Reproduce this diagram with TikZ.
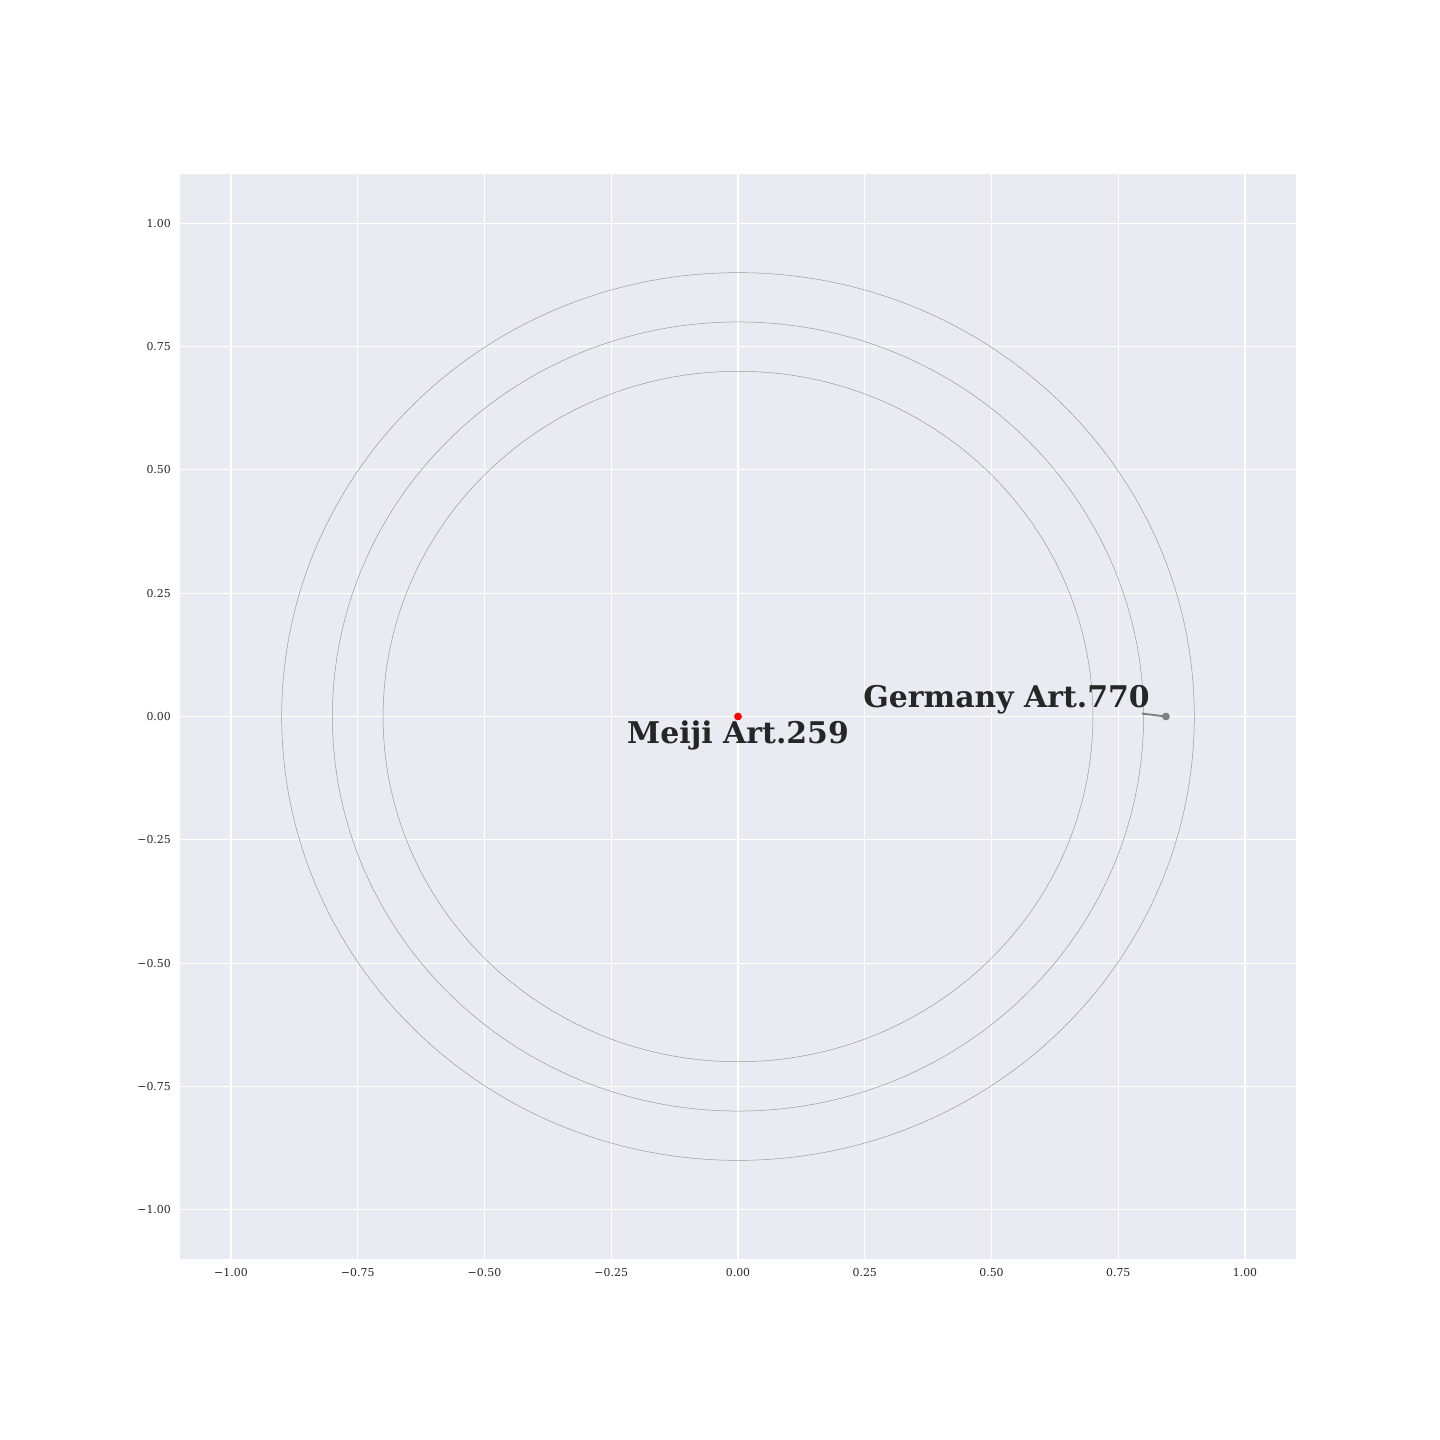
\documentclass[tikz,border=0pt]{standalone}
\usepackage{fontspec}
\setmainfont{DejaVu Serif}
\usetikzlibrary{positioning}
\definecolor{panelbg}{HTML}{EAEAF2}
\definecolor{inkgray}{HTML}{262626}
\begin{document}
\begin{tikzpicture}[x=12.878cm,y=12.527cm,
    gridline/.style={white,line width=0.8pt},
    ring/.style={draw=black!40,line width=0.35pt},
    ticklabel/.style={text=inkgray,font=\fontsize{7.9}{9}\selectfont,inner sep=0pt},
    artlabel/.style={text=inkgray,font=\fontsize{21.6}{25}\selectfont\bfseries,inner sep=0pt},
    pointdot/.style={circle,inner sep=0pt,minimum size=5.6pt}]
  \useasboundingbox (-1.4556,-1.4669) rectangle (1.3846,1.4528);
  \fill[panelbg] (-1.1,-1.1) rectangle (1.1,1.1);
  \foreach \v/\t in {-1/−1.00,-0.75/−0.75,-0.5/−0.50,-0.25/−0.25,0/0.00,0.25/0.25,0.5/0.50,0.75/0.75,1/1.00}{
    \draw[gridline] (\v,-1.1) -- (\v,1.1);
    \draw[gridline] (-1.1,\v) -- (1.1,\v);
    \node[ticklabel,anchor=north] at (\v,-1.1185) {\t};
    \node[ticklabel,anchor=east] at (-1.118,\v) {\t};
  }
  % rings
  \foreach \r in {0.9,0.8,0.7}
    \draw[ring] (0,0) circle (\r);
  \node[pointdot,fill=red] (meijidot) at (0,0) {};
  \node[artlabel,anchor=base] (meiji) at (0,-0.0546) {Meiji Art.259};
  \node[pointdot,fill=gray] (germanydot) at (0.844,0) {};
  \node[artlabel,anchor=base east] (germany) at (0.8126,0.0182) {Germany Art.770};
  \coordinate (germanytail) at (0.797,0.006);
  \draw[gray,line width=1.4pt] (germanytail) -- (germanydot.center);
\end{tikzpicture}
\end{document}
